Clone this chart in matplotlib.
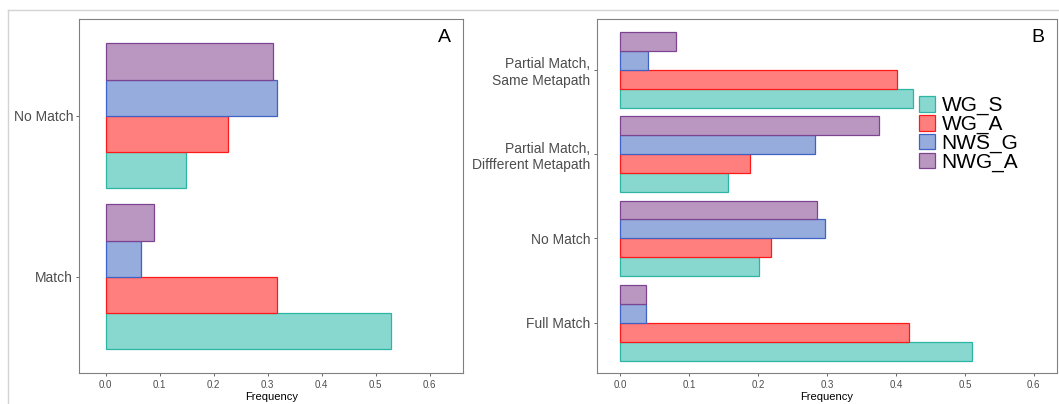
import matplotlib.pyplot as plt
import numpy as np
from matplotlib.lines import Line2D

plt.rcParams["font.family"] = ["Liberation Sans", "DejaVu Sans"]

# ── Data ──
series = ["WG_S", "WG_A", "NWS_G", "NWG_A"]

cats_a = ["Match", "No Match"]
freq_a = {
    "WG_S": [0.529, 0.149],
    "WG_A": [0.317, 0.226],
    "NWS_G": [0.065, 0.317],
    "NWG_A": [0.090, 0.309],
}

cats_b = ["Full Match", "No Match", "Partial Match,\nDiffferent Metapath",
          "Partial Match,\nSame Metapath"]
freq_b = {
    "WG_S": [0.510, 0.202, 0.157, 0.425],
    "WG_A": [0.419, 0.219, 0.188, 0.401],
    "NWS_G": [0.037, 0.297, 0.282, 0.041],
    "NWG_A": [0.037, 0.286, 0.376, 0.081],
}

xticks = [0.0, 0.1, 0.2, 0.3, 0.4, 0.5, 0.6]

FILL = {"WG_S": "#88d8cf", "WG_A": "#ff7f7f", "NWS_G": "#96acdc", "NWG_A": "#ba97c1"}
EDGE = {"WG_S": "#2bb5a2", "WG_A": "#ff1a1a", "NWS_G": "#3f62c4", "NWG_A": "#7d4491"}
GREY = "#4d4d4d"
W, H = 1059, 404


def draw_panel(ax, cats, freq, xlim, label, label_x):
    y = np.arange(1, len(cats) + 1)
    w = 0.9 / len(series)
    for i, s in enumerate(series):
        off = (i - 1.5) * w
        ax.barh(y + off, freq[s], height=w, color=FILL[s], edgecolor=EDGE[s],
                linewidth=0.9, label=s)
    ax.set_yticks(y)
    ax.set_yticklabels(cats, fontsize=10, color=GREY)
    ax.set_xticks(xticks)
    ax.set_xticklabels([f"{t:.1f}" for t in xticks], fontsize=7, color=GREY)
    ax.set_xlim(*xlim)
    ax.set_ylim(0.4, len(cats) + 0.6)
    ax.set_xlabel("Frequency", fontsize=8, labelpad=1.5)
    ax.tick_params(axis="both", length=2.5, width=0.6, color=GREY, pad=2)
    for sp in ax.spines.values():
        sp.set_color("#808080")
        sp.set_linewidth(0.8)
    ax.text(label_x, 0.95, label, transform=ax.transAxes, ha="right", va="center",
            fontsize=14)


fig = plt.figure(figsize=(W / 100, H / 100), dpi=100)

ax_a = fig.add_axes([79.3 / W, 1 - 373.3 / H, 384 / W, 354 / H])
draw_panel(ax_a, cats_a, freq_a, (-0.049, 0.662), "A", 0.967)

ax_b = fig.add_axes([596.7 / W, 1 - 373.3 / H, 460.6 / W, 354 / H])
draw_panel(ax_b, cats_b, freq_b, (-0.034, 0.634), "B", 0.973)

ax_b.legend(loc="upper left", bbox_to_anchor=(0.700, 0.783), frameon=False,
            fontsize=15, handlelength=0.77, handleheight=0.77, handletextpad=0.31,
            labelspacing=-0.02, borderaxespad=0, borderpad=0)

# light frame around the whole figure
fig.add_artist(Line2D([8 / W, 1], [1 - 10 / H, 1 - 10 / H], color="#d3d3d3", lw=1))
fig.add_artist(Line2D([8 / W, 8 / W], [0, 1 - 10 / H], color="#d3d3d3", lw=1))

fig.savefig("out.png", dpi=100)
